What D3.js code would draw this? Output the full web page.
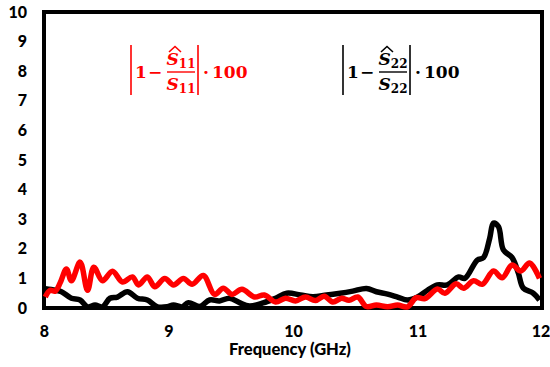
<!DOCTYPE html>
<html>
<head>
<meta charset="utf-8">
<script src="https://cdn.jsdelivr.net/npm/d3@7"></script>
<style>
  body { margin: 0; background: #fff; }
  svg { display: block; }
</style>
</head>
<body>
<div id="chart"></div>
<script>
// values (frequency in GHz, error in %)
const freqS11 = [8.01, 8.05, 8.09, 8.13, 8.18, 8.22, 8.29, 8.35, 8.40, 8.47, 8.55, 8.63, 8.71, 8.76, 8.83, 8.89,
  8.97, 9.04, 9.12, 9.19, 9.28, 9.37, 9.44, 9.51, 9.59, 9.69, 9.77, 9.86, 9.94, 10.02, 10.10, 10.18, 10.25,
  10.32, 10.39, 10.45, 10.52, 10.59, 10.67, 10.76, 10.84, 10.92, 10.99, 11.06, 11.16, 11.22, 11.31, 11.37,
  11.45, 11.52, 11.61, 11.68, 11.76, 11.83, 11.90, 11.98];
const errS11 = [0.37, 0.6, 0.57, 0.85, 1.32, 0.92, 1.55, 0.6, 1.38, 0.92, 1.24, 0.88, 1.05, 0.78, 1.05, 0.72,
  1.0, 0.78, 1.0, 0.8, 1.1, 0.46, 0.67, 0.46, 0.63, 0.37, 0.44, 0.2, 0.33, 0.24, 0.37, 0.25, 0.4,
  0.2, 0.33, 0.26, 0.37, 0.05, 0.1, 0.04, 0.1, 0.04, 0.35, 0.32, 0.64, 0.5, 0.82, 0.67,
  0.92, 0.8, 1.25, 1.02, 1.45, 1.25, 1.52, 1.0];

const freqS22 = [8.01, 8.09, 8.14, 8.22, 8.29, 8.35, 8.41, 8.47, 8.53, 8.59, 8.67, 8.75, 8.83, 8.91, 8.99, 9.04,
  9.11, 9.16, 9.25, 9.33, 9.41, 9.49, 9.57, 9.65, 9.76, 9.86, 9.95, 10.06, 10.16, 10.27, 10.38, 10.48,
  10.59, 10.67, 10.76, 10.84, 10.92, 11.00, 11.08, 11.16, 11.24, 11.33, 11.38, 11.48, 11.53, 11.58, 11.61,
  11.65, 11.69, 11.76, 11.81, 11.85, 11.93, 11.98];
const errS22 = [0.65, 0.6, 0.55, 0.33, 0.27, 0.04, 0.1, 0.04, 0.33, 0.37, 0.55, 0.33, 0.27, 0.04, 0.04, 0.1,
  0.04, 0.18, 0.05, 0.27, 0.24, 0.33, 0.18, 0.07, 0.17, 0.33, 0.5, 0.44, 0.38, 0.44, 0.5, 0.57,
  0.66, 0.55, 0.47, 0.37, 0.27, 0.37, 0.6, 0.78, 0.78, 1.05, 1.0, 1.62, 1.7, 2.36, 2.87,
  2.75, 1.96, 1.7, 1.18, 0.67, 0.5, 0.27];

const xTicks = [8, 9, 10, 11, 12];
const yTicks = [0, 1, 2, 3, 4, 5, 6, 7, 8, 9, 10];
const xTitle = 'Frequency (GHz)';

const width = 550;
const height = 367;
const margin = { top: 12, right: 8, bottom: 59, left: 44 };

const svg = d3.select('#chart').append('svg')
  .attr('width', width)
  .attr('height', height);

const x = d3.scaleLinear().domain([8, 12]).range([margin.left, width - margin.right]);
const y = d3.scaleLinear().domain([0, 10]).range([height - margin.bottom, margin.top]);

const tickFont = 'Lato, "Open Sans", sans-serif';

const yAxis = svg.append('g')
  .attr('transform', `translate(${margin.left},0)`)
  .call(d3.axisLeft(y).tickValues(yTicks).tickSize(0).tickPadding(17).tickFormat(d3.format('d')));
yAxis.select('.domain').remove();
yAxis.selectAll('text')
  .style('font-family', tickFont)
  .style('font-weight', 900)
  .style('font-size', '16px')
  .attr('fill', '#000');

const xAxis = svg.append('g')
  .attr('transform', `translate(0,${height - margin.bottom})`)
  .call(d3.axisBottom(x).tickValues(xTicks).tickSize(0).tickPadding(18).tickFormat(d3.format('d')));
xAxis.select('.domain').remove();
xAxis.selectAll('text')
  .style('font-family', tickFont)
  .style('font-weight', 900)
  .style('font-size', '16px')
  .attr('fill', '#000');
// keep the last label inside the page
xAxis.selectAll('.tick').filter(d => d === 12).select('text').attr('dx', -1.5);

svg.append('text')
  .attr('x', 290)
  .attr('y', 355)
  .attr('text-anchor', 'middle')
  .style('font-family', tickFont)
  .style('font-weight', 900)
  .style('font-size', '16.5px')
  .text(xTitle);

// plot frame
svg.append('rect')
  .attr('x', x(8))
  .attr('y', y(10))
  .attr('width', x(12) - x(8))
  .attr('height', y(0) - y(10))
  .attr('fill', 'none')
  .attr('stroke', '#000')
  .attr('stroke-width', 4);

const line = d3.line()
  .x(d => x(d[0]))
  .y(d => y(d[1]))
  .curve(d3.curveCatmullRom.alpha(0.5));

svg.append('path')
  .datum(d3.zip(freqS22, errS22))
  .attr('d', line)
  .attr('fill', 'none')
  .attr('stroke', '#000')
  .attr('stroke-width', 5.5)
  .attr('stroke-linejoin', 'round');

svg.append('path')
  .datum(d3.zip(freqS11, errS11))
  .attr('d', line)
  .attr('fill', 'none')
  .attr('stroke', '#ff0000')
  .attr('stroke-width', 5.5)
  .attr('stroke-linejoin', 'round');

// |1 - S^/S| · 100 labels
const mathFont = '"DejaVu Serif", "Liberation Serif", serif';
const formula = (x0, color, sub) => {
  const g = svg.append('g')
    .attr('transform', `translate(${x0},0)`)
    .attr('fill', color)
    .style('font-family', mathFont)
    .style('font-weight', 'bold')
    .style('font-size', '17px');

  [0, 67].forEach((bx) => {
    g.append('line')
      .attr('x1', bx).attr('x2', bx)
      .attr('y1', 45).attr('y2', 95)
      .attr('stroke', color)
      .attr('stroke-width', 1.6);
  });

  g.append('text').attr('x', 4).attr('y', 78).text('1');
  g.append('text').attr('x', 17).attr('y', 78).text('\u2212');

  g.append('line')
    .attr('x1', 36).attr('x2', 64)
    .attr('y1', 72).attr('y2', 72)
    .attr('stroke', color)
    .attr('stroke-width', 1.4);

  const num = g.append('text').attr('x', 50).attr('y', 65).attr('text-anchor', 'middle');
  num.append('tspan').style('font-style', 'italic').text('S');
  num.append('tspan').attr('dy', 3).style('font-size', '12px').text(sub);
  // wide hat over the numerator S
  g.append('path')
    .attr('d', 'M38,52 L44,46.5 L50,52')
    .attr('fill', 'none')
    .attr('stroke', color)
    .attr('stroke-width', 1.6);

  const den = g.append('text').attr('x', 50).attr('y', 90).attr('text-anchor', 'middle');
  den.append('tspan').style('font-style', 'italic').text('S');
  den.append('tspan').attr('dy', 3).style('font-size', '12px').text(sub);

  g.append('text').attr('x', 72).attr('y', 78).text('\u00B7');
  g.append('text').attr('x', 81).attr('y', 78).text('100');
};

formula(131, '#ff0000', '11');
formula(343, '#000', '22');
</script>
</body>
</html>
